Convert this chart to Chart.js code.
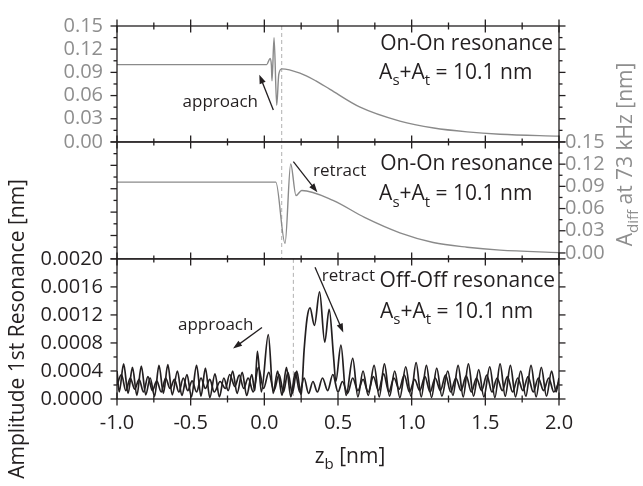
<!DOCTYPE html>
<html>
<head>
<meta charset="utf-8">
<script src="https://cdn.jsdelivr.net/npm/chart.js@4.4.1/dist/chart.umd.min.js"></script>
<style>
  html, body { margin: 0; padding: 0; background: #fff; }
  #wrap { width: 643px; height: 486px; }
</style>
</head>
<body>
<div id="wrap"><canvas id="chart" width="643" height="486"></canvas></div>
<script>
// tick values
const zbTicks = [-1, -0.5, 0, 0.5, 1, 1.5, 2];
const aDiffTicks = [0, 0.03, 0.06, 0.09, 0.12, 0.15];
const ampTicks = [0, 0.0004, 0.0008, 0.0012, 0.0016, 0.002];

// contact points (dashed lines)
const contactOnOn = 0.118;
const contactOffOff = 0.197;

// On-On resonance, approach (top panel, A_diff)
const onOnApproachX = [-1.0, 0.016, 0.039, 0.048, 0.052, 0.066, 0.084, 0.098, 0.118, 0.242, 0.35, 0.446, 0.65, 0.92, 1.15, 1.376, 1.60, 2.0];
const onOnApproachY = [0.100, 0.100, 0.108, 0.099, 0.079, 0.135, 0.0475, 0.0875, 0.0946, 0.089, 0.079, 0.068, 0.045, 0.027, 0.018, 0.013, 0.010, 0.0075];

// On-On resonance, retract (middle panel, A_diff)
const onOnRetractX = [-1.0, 0.078, 0.1405, 0.179, 0.215, 0.254, 0.466, 0.68, 0.92, 1.146, 1.376, 1.60, 2.0];
const onOnRetractY = [0.0957, 0.0957, 0.0129, 0.1203, 0.0776, 0.0844, 0.0711, 0.048, 0.0272, 0.0142, 0.0078, 0.0039, 0.0005];

// Off-Off resonance, approach (bottom panel)
const offApproachX = [-1.000, -0.985, -0.955, -0.925, -0.895, -0.865, -0.835, -0.805, -0.775, -0.745,
  -0.715, -0.685, -0.655, -0.625, -0.590, -0.560, -0.525, -0.495, -0.460, -0.430,
  -0.400, -0.370, -0.335, -0.305, -0.275, -0.245, -0.215, -0.185, -0.150, -0.120,
  -0.085, -0.065, -0.047, -0.020, 0.027, 0.060, 0.090, 0.120, 0.150, 0.180,
  0.210, 0.240, 0.270, 0.300, 0.330, 0.360, 0.395, 0.430, 0.465, 0.500,
  0.530, 0.565, 0.600, 0.635, 0.670, 0.705, 0.740, 0.775, 0.810, 0.845,
  0.880, 0.915, 0.950, 0.985, 1.020, 1.055, 1.090, 1.125, 1.160, 1.195,
  1.230, 1.265, 1.300, 1.335, 1.370, 1.405, 1.440, 1.475, 1.510, 1.545,
  1.580, 1.615, 1.650, 1.685, 1.720, 1.755, 1.790, 1.825, 1.860, 1.895,
  1.930, 1.965, 2.000];
const offApproachY = [0.00040, 0.00010, 0.00050, 0.00008, 0.00045, 0.00005, 0.00047, 0.00006, 0.00030, 0.00004,
  0.00048, 0.00008, 0.00049, 0.00006, 0.00040, 0.00005, 0.00035, 0.00003, 0.00048, 0.00004,
  0.00044, 0.00002, 0.00036, 0.00003, 0.00030, 0.00012, 0.00040, 0.00008, 0.00038, 0.00005,
  0.00035, 0.00012, 0.00068, 0.00010, 0.00092, 0.00008, 0.00040, 0.00005, 0.00045, 0.00003,
  0.00038, 0.00010, 0.00030, 0.00008, 0.00025, 0.00010, 0.00030, 0.00012, 0.00035, 0.00010,
  0.00025, 0.00008, 0.00030, 0.00012, 0.00028, 0.00010, 0.00032, 0.00012, 0.00036, 0.00010,
  0.00030, 0.00014, 0.00034, 0.00010, 0.00028, 0.00012, 0.00032, 0.00010, 0.00030, 0.00012,
  0.00034, 0.00010, 0.00030, 0.00012, 0.00033, 0.00010, 0.00030, 0.00012, 0.00034, 0.00010,
  0.00030, 0.00012, 0.00032, 0.00010, 0.00030, 0.00012, 0.00032, 0.00010, 0.00030, 0.00012,
  0.00030, 0.00010, 0.00025];

// Off-Off resonance, retract (bottom panel)
const offRetractX = [-1.000, -0.970, -0.940, -0.910, -0.880, -0.850, -0.820, -0.790, -0.760, -0.730,
  -0.700, -0.670, -0.640, -0.610, -0.580, -0.550, -0.520, -0.490, -0.460, -0.430,
  -0.400, -0.370, -0.340, -0.300, -0.265, -0.235, -0.200, -0.170, -0.140, -0.110,
  -0.075, -0.040, -0.005, 0.030, 0.065, 0.100, 0.130, 0.160, 0.190, 0.220,
  0.250, 0.270, 0.290, 0.310, 0.340, 0.375, 0.410, 0.440, 0.470, 0.485,
  0.520, 0.555, 0.600, 0.635, 0.670, 0.705, 0.745, 0.780, 0.815, 0.850,
  0.885, 0.920, 0.960, 0.995, 1.030, 1.065, 1.100, 1.135, 1.170, 1.205,
  1.245, 1.280, 1.315, 1.350, 1.385, 1.420, 1.455, 1.490, 1.530, 1.565,
  1.600, 1.635, 1.670, 1.705, 1.740, 1.775, 1.810, 1.845, 1.880, 1.915,
  1.950, 1.980, 2.000];
const offRetractY = [0.00020, 0.00035, 0.00012, 0.00030, 0.00014, 0.00028, 0.00010, 0.00032, 0.00012, 0.00026,
  0.00010, 0.00030, 0.00015, 0.00028, 0.00010, 0.00030, 0.00012, 0.00026, 0.00010, 0.00030,
  0.00015, 0.00028, 0.00010, 0.00025, 0.00015, 0.00035, 0.00018, 0.00034, 0.00015, 0.00030,
  0.00010, 0.00045, 0.00015, 0.00038, 0.00012, 0.00035, 0.00010, 0.00038, 0.00008, 0.00040,
  0.00005, 0.00070, 0.00115, 0.00130, 0.00105, 0.00153, 0.00081, 0.00128, 0.00060, 0.00025,
  0.00077, 0.00005, 0.00058, 0.00003, 0.00040, 0.00005, 0.00048, 0.00003, 0.00050, 0.00004,
  0.00040, 0.00002, 0.00046, 0.00004, 0.00052, 0.00003, 0.00048, 0.00002, 0.00044, 0.00004,
  0.00040, 0.00005, 0.00048, 0.00003, 0.00050, 0.00004, 0.00042, 0.00003, 0.00046, 0.00002,
  0.00050, 0.00004, 0.00048, 0.00003, 0.00040, 0.00004, 0.00048, 0.00003, 0.00045, 0.00004,
  0.00040, 0.00010, 0.00030];

const FONT = '"Open Sans", "DejaVu Sans", sans-serif';
const INK = '#231f20';
const GRAY_TEXT = '#8e8e8e';
const GRAY_LINE = '#8a8a8a';

Chart.defaults.font.family = FONT;
Chart.defaults.font.size = 20;

const toPoints = (xs, ys) => xs.map((x, i) => ({ x, y: ys[i] }));
const minorsOf = (t) => t.slice(1).map((v, i) => (v + t[i]) / 2);

// annotation texts, placed in data units of each panel
const notes = [
  { scale: 'yTop', x: 1.96, y: 0.119, text: 'On-On resonance', align: 'right', size: 21 },
  { scale: 'yTop', x: 0.779, y: 0.0813, text: 'A_{s}+A_{t} = 10.1 nm', align: 'left', size: 21 },
  { scale: 'yTop', x: -0.043, y: 0.0454, text: 'approach', align: 'right', size: 17 },
  { scale: 'yMid', x: 1.96, y: 0.114, text: 'On-On resonance', align: 'right', size: 21 },
  { scale: 'yMid', x: 0.779, y: 0.0752, text: 'A_{s}+A_{t} = 10.1 nm', align: 'left', size: 21 },
  { scale: 'yMid', x: 0.331, y: 0.1066, text: 'retract', align: 'left', size: 17 },
  { scale: 'yBot', x: 1.973, y: 0.0016, text: 'Off-Off resonance', align: 'right', size: 21 },
  { scale: 'yBot', x: 0.785, y: 0.00116, text: 'A_{s}+A_{t} = 10.1 nm', align: 'left', size: 21 },
  { scale: 'yBot', x: 0.39, y: 0.00168, text: 'retract', align: 'left', size: 17 },
  { scale: 'yBot', x: -0.586, y: 0.00098, text: 'approach', align: 'left', size: 17 }
];
const arrows = [
  { scale: 'yTop', from: [0.061, 0.0413], to: [-0.034, 0.0871] },
  { scale: 'yMid', from: [0.197, 0.1248], to: [0.36, 0.0855] },
  { scale: 'yBot', from: [0.344, 0.00188], to: [0.536, 0.00095] },
  { scale: 'yBot', from: [-0.016, 0.00102], to: [-0.2125, 0.00072] }
];

// draws text with _{...} subscripts
function drawRich(ctx, str, x, y, size, align, color) {
  const parts = [];
  str.split(/(_\{[^}]*\})/).forEach(p => {
    if (!p) return;
    if (p.startsWith('_{')) parts.push({ t: p.slice(2, -1), sub: true });
    else parts.push({ t: p, sub: false });
  });
  const subSize = Math.round(size * 0.7);
  let w = 0;
  parts.forEach(p => {
    ctx.font = (p.sub ? subSize : size) + 'px ' + FONT;
    p.w = ctx.measureText(p.t).width;
    w += p.w;
  });
  let cx = align === 'right' ? x - w : align === 'center' ? x - w / 2 : x;
  ctx.fillStyle = color;
  ctx.textAlign = 'left';
  ctx.textBaseline = 'alphabetic';
  parts.forEach(p => {
    ctx.font = (p.sub ? subSize : size) + 'px ' + FONT;
    ctx.fillText(p.t, cx, y + (p.sub ? size * 0.3 : 0));
    cx += p.w;
  });
}

function drawArrow(ctx, x1, y1, x2, y2) {
  const a = Math.atan2(y2 - y1, x2 - x1);
  const hl = 9, hw = 3.2;
  ctx.beginPath();
  ctx.moveTo(x1, y1);
  ctx.lineTo(x2 - Math.cos(a) * hl * 0.7, y2 - Math.sin(a) * hl * 0.7);
  ctx.stroke();
  ctx.beginPath();
  ctx.moveTo(x2, y2);
  ctx.lineTo(x2 - hl * Math.cos(a) + hw * Math.sin(a), y2 - hl * Math.sin(a) - hw * Math.cos(a));
  ctx.lineTo(x2 - hl * Math.cos(a) - hw * Math.sin(a), y2 - hl * Math.sin(a) + hw * Math.cos(a));
  ctx.closePath();
  ctx.fill();
}

function hLine(ctx, x1, x2, y) { ctx.beginPath(); ctx.moveTo(x1, y); ctx.lineTo(x2, y); ctx.stroke(); }
function vLine(ctx, x, y1, y2) { ctx.beginPath(); ctx.moveTo(x, y1); ctx.lineTo(x, y2); ctx.stroke(); }

const panelsPlugin = {
  id: 'panels',
  beforeDatasetsDraw(chart) {
    const { ctx, scales } = chart;
    ctx.save();
    ctx.strokeStyle = '#b0b0b0';
    ctx.lineWidth = 1;
    ctx.setLineDash([4, 3]);
    vLine(ctx, scales.x.getPixelForValue(contactOnOn), scales.yTop.top, scales.yMid.bottom);
    vLine(ctx, scales.x.getPixelForValue(contactOffOff), scales.yBot.top, scales.yBot.bottom);
    ctx.restore();
  },
  afterDatasetsDraw(chart) {
    const { ctx, chartArea, scales } = chart;
    const L = chartArea.left, R = chartArea.right;
    ctx.save();
    ctx.strokeStyle = INK;
    ctx.lineWidth = 1.3;
    ['yTop', 'yMid', 'yBot'].forEach(id => {
      const s = scales[id];
      ctx.strokeRect(L, s.top, R - L, s.bottom - s.top);
    });
    // x ticks on every horizontal border
    const borders = [scales.yTop.top, scales.yMid.top, scales.yBot.top, scales.yBot.bottom];
    const xMinor = minorsOf(zbTicks);
    borders.forEach(by => {
      zbTicks.forEach(v => { const px = scales.x.getPixelForValue(v); vLine(ctx, px, by - 6.5, by + 6.5); });
      xMinor.forEach(v => { const px = scales.x.getPixelForValue(v); vLine(ctx, px, by - 3.5, by + 3.5); });
    });
    // y ticks, outward
    const sets = [
      ['yTop', aDiffTicks, L, -1], ['yMid', aDiffTicks, L, -1], ['yBot', ampTicks, L, -1],
      ['rTop', aDiffTicks, R, 1], ['rMid', aDiffTicks, R, 1], ['rBot', ampTicks, R, 1]
    ];
    sets.forEach(([id, t, edge, dir]) => {
      const s = scales[id];
      t.forEach(v => hLine(ctx, edge, edge + dir * 6.5, s.getPixelForValue(v)));
      minorsOf(t).forEach(v => hLine(ctx, edge, edge + dir * 3.5, s.getPixelForValue(v)));
    });
    ctx.restore();
  },
  afterDraw(chart) {
    const { ctx, scales, chartArea } = chart;
    ctx.save();
    notes.forEach(n => {
      drawRich(ctx, n.text, scales.x.getPixelForValue(n.x), scales[n.scale].getPixelForValue(n.y), n.size, n.align, INK);
    });
    ctx.strokeStyle = INK;
    ctx.fillStyle = INK;
    ctx.lineWidth = 1.3;
    arrows.forEach(a => {
      const s = scales[a.scale];
      drawArrow(ctx, scales.x.getPixelForValue(a.from[0]), s.getPixelForValue(a.from[1]),
        scales.x.getPixelForValue(a.to[0]), s.getPixelForValue(a.to[1]));
    });
    // x title
    const cx = (chartArea.left + chartArea.right) / 2 + 12;
    drawRich(ctx, 'z_{b} [nm]', cx, chartArea.bottom + 64, 21, 'center', INK);
    // right title (rotated)
    ctx.translate(chart.width - 11, (scales.rTop.top + scales.rMid.bottom) / 2 + 12);
    ctx.rotate(-Math.PI / 2);
    drawRich(ctx, 'A_{diff} at 73 kHz [nm]', 0, 0, 21, 'center', GRAY_TEXT);
    ctx.restore();
  }
};

const noGrid = { display: false, drawTicks: false };
const fixTicks = (list) => (s) => { s.ticks = list.map(v => ({ value: v })); };

new Chart(document.getElementById('chart'), {
  type: 'line',
  data: {
    datasets: [
      { label: 'On-On approach', data: toPoints(onOnApproachX, onOnApproachY), yAxisID: 'yTop',
        borderColor: GRAY_LINE, borderWidth: 1.4 },
      { label: 'On-On retract', data: toPoints(onOnRetractX, onOnRetractY), yAxisID: 'rMid',
        borderColor: GRAY_LINE, borderWidth: 1.4 },
      { label: 'Off-Off approach', data: toPoints(offApproachX, offApproachY), yAxisID: 'yBot',
        borderColor: INK, borderWidth: 1.7 },
      { label: 'Off-Off retract', data: toPoints(offRetractX, offRetractY), yAxisID: 'yBot',
        borderColor: INK, borderWidth: 1.7 }
    ]
  },
  options: {
    responsive: false,
    animation: false,
    events: [],
    layout: { padding: { top: 13, left: 0, right: 0, bottom: 0 } },
    elements: { point: { radius: 0 }, line: { cubicInterpolationMode: 'monotone', fill: false } },
    plugins: { legend: { display: false }, tooltip: { enabled: false } },
    scales: {
      x: {
        type: 'linear', position: 'bottom', min: -1, max: 2,
        grid: noGrid, border: { display: false },
        ticks: { color: INK, padding: 12, maxRotation: 0, autoSkip: false, callback: v => v.toFixed(1) },
        afterBuildTicks: fixTicks(zbTicks),
        afterFit: s => { s.height = 87; }
      },
      yTop: {
        type: 'linear', position: 'left', stack: 'left', stackWeight: 120, weight: 3,
        min: 0, max: 0.15, grid: noGrid, border: { display: false },
        ticks: { color: GRAY_TEXT, padding: 14, autoSkip: false, callback: v => v.toFixed(2) },
        afterBuildTicks: fixTicks(aDiffTicks),
        afterFit: s => { s.width = 117; }
      },
      yMid: {
        type: 'linear', position: 'left', stack: 'left', stackWeight: 121, weight: 2,
        min: 0, max: 0.15, grid: noGrid, border: { display: false },
        ticks: { display: false },
        afterFit: s => { s.width = 117; }
      },
      yBot: {
        type: 'linear', position: 'left', stack: 'left', stackWeight: 145, weight: 1,
        min: 0, max: 0.002, grid: noGrid, border: { display: false },
        ticks: { color: INK, padding: 14, autoSkip: false, callback: v => v.toFixed(4) },
        afterBuildTicks: fixTicks(ampTicks),
        title: { display: true, text: 'Amplitude 1st Resonance [nm]', color: INK, font: { size: 21 }, padding: { top: 5, bottom: 0 } },
        afterFit: s => { s.width = 117; }
      },
      rTop: {
        type: 'linear', position: 'right', stack: 'right', stackWeight: 120, weight: 1,
        min: 0, max: 0.15, grid: noGrid, border: { display: false },
        ticks: { display: false },
        afterFit: s => { s.width = 84; }
      },
      rMid: {
        type: 'linear', position: 'right', stack: 'right', stackWeight: 121, weight: 2,
        min: -0.008, max: 0.15, grid: noGrid, border: { display: false },
        ticks: { color: GRAY_TEXT, padding: 6, autoSkip: false, callback: v => v.toFixed(2) },
        afterBuildTicks: fixTicks(aDiffTicks),
        afterFit: s => { s.width = 84; }
      },
      rBot: {
        type: 'linear', position: 'right', stack: 'right', stackWeight: 145, weight: 3,
        min: 0, max: 0.002, grid: noGrid, border: { display: false },
        ticks: { display: false },
        afterFit: s => { s.width = 84; }
      }
    }
  },
  plugins: [panelsPlugin]
});
</script>
</body>
</html>
